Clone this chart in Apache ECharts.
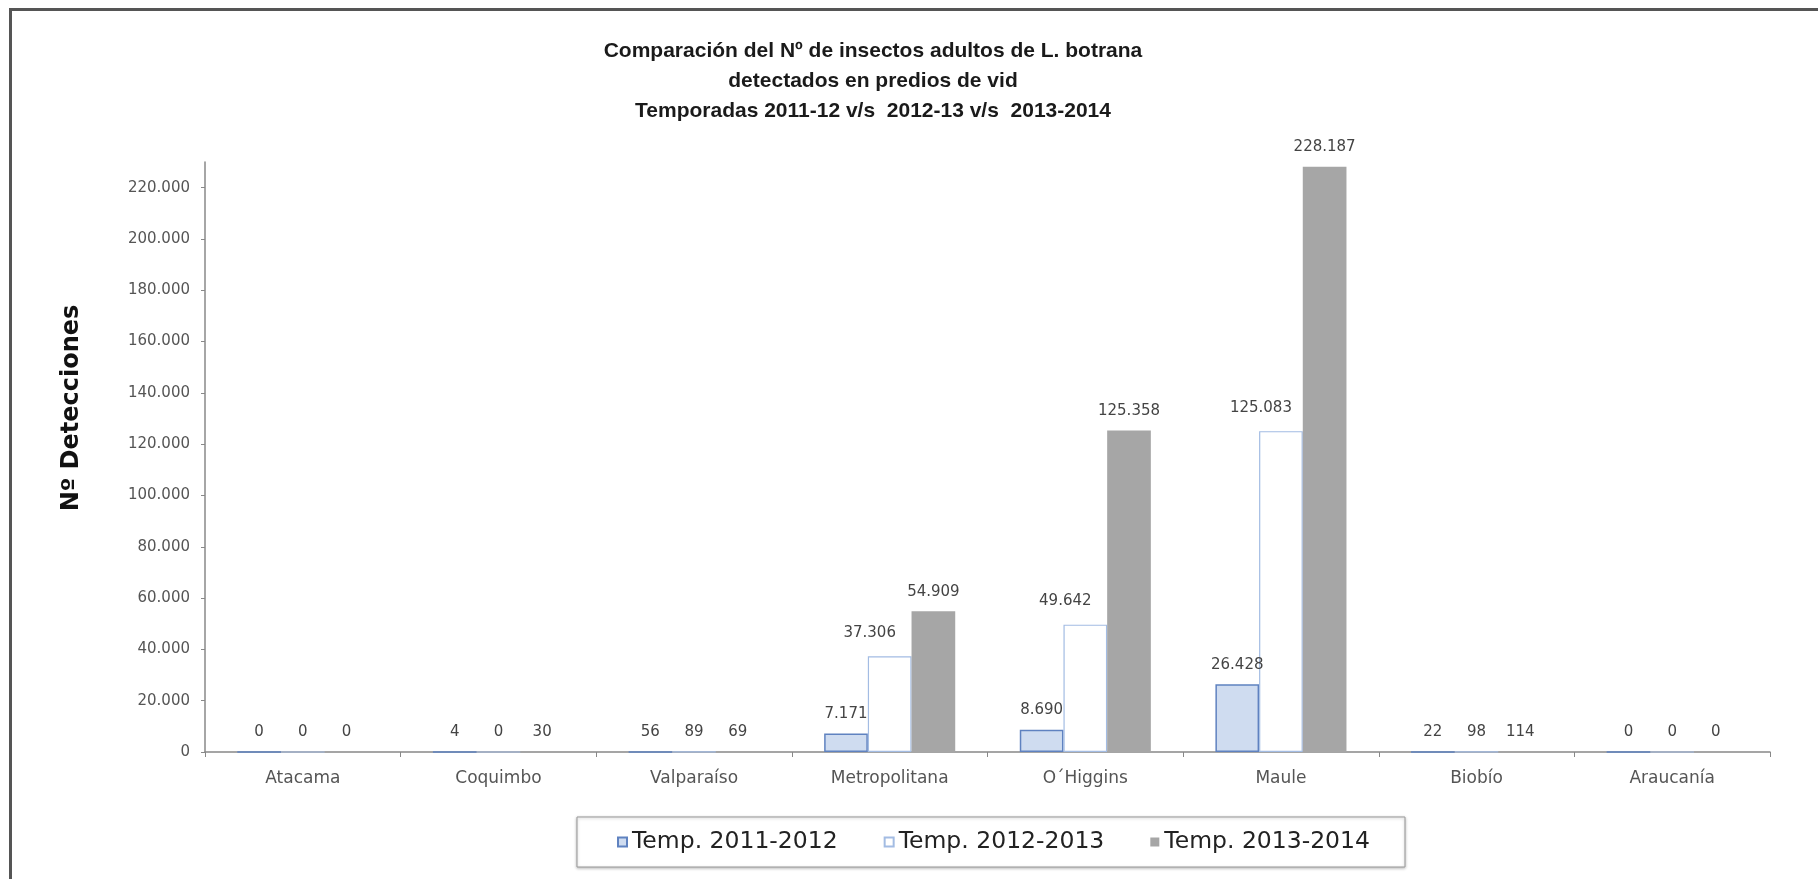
<!DOCTYPE html>
<html>
<head>
<meta charset="utf-8">
<title>L. botrana</title>
<script src="https://cdn.jsdelivr.net/npm/echarts@6/dist/echarts.min.js"></script>
<style>
  html, body { margin: 0; padding: 0; background: #fff; }
  #chart { width: 1818px; height: 879px; }
</style>
</head>
<body>
<div id="chart"></div>
<script>
var regiones = ['Atacama', 'Coquimbo', 'Valparaíso', 'Metropolitana', 'O´Higgins', 'Maule', 'Biobío', 'Araucanía'];
var temp1112 = [0, 4, 56, 7171, 8690, 26428, 22, 0];
var temp1213 = [0, 0, 89, 37306, 49642, 125083, 98, 0];
var temp1314 = [0, 30, 69, 54909, 125358, 228187, 114, 0];
var tituloLineas = [
    'Comparación del Nº de insectos adultos de L. botrana',
    'detectados en predios de vid',
    'Temporadas 2011-12 v/s  2012-13 v/s  2013-2014'
];

var chart = echarts.init(document.getElementById('chart'));
var fuente = 'DejaVu Sans';

// separador de miles con punto
function miles(v) {
    return String(v).replace(/\B(?=(\d{3})+(?!\d))/g, '.');
}

var etiqueta = {
    show: true,
    position: 'top',
    distance: 12,
    color: '#444',
    fontFamily: fuente,
    fontSize: 15,
    formatter: function (p) { return miles(p.value); }
};

// en Excel las etiquetas grandes de 2012-13 quedaron corridas a la izquierda
var datos1213 = temp1213.map(function (v) {
    return v > 1000 ? { value: v, label: { offset: [-20, -4] } } : v;
});

option = {
    backgroundColor: '#fff',
    animation: false,
    title: {
        text: tituloLineas.join('\n'),
        left: 873,
        top: 36,
        padding: 0,
        textAlign: 'center',
        textStyle: {
            fontFamily: 'Liberation Sans',
            fontWeight: 'bold',
            fontSize: 21,
            lineHeight: 30,
            color: '#1a1a1a'
        }
    },
    legend: {
        left: 577,
        top: 817,
        padding: [13, 35, 13, 40],
        itemWidth: 9,
        itemHeight: 9,
        itemGap: 46,
        icon: 'rect',
        backgroundColor: '#fff',
        borderColor: '#999',
        borderWidth: 1,
        shadowColor: 'rgba(0,0,0,0.25)',
        shadowBlur: 3,
        shadowOffsetY: 1,
        textStyle: {
            fontFamily: fuente,
            fontSize: 23.5,
            color: '#222'
        }
    },
    grid: {
        left: 205,
        right: 48,
        top: 162,
        bottom: 127
    },
    xAxis: {
        type: 'category',
        data: regiones,
        axisLine: { lineStyle: { color: '#888', width: 1.5 } },
        axisTick: { show: true, length: 5, lineStyle: { color: '#888' } },
        axisLabel: {
            margin: 18,
            color: '#555',
            fontFamily: fuente,
            fontSize: 17
        },
        splitLine: { show: false }
    },
    yAxis: {
        type: 'value',
        min: 0,
        max: 230000,
        interval: 20000,
        axisLine: { show: true, lineStyle: { color: '#888', width: 1.5 } },
        axisTick: { show: true, length: 4, lineStyle: { color: '#888' } },
        axisLabel: {
            margin: 15,
            color: '#555',
            fontFamily: fuente,
            fontSize: 15,
            showMaxLabel: false,
            formatter: function (v) { return miles(v); }
        },
        splitLine: { show: false }
    },
    graphic: [
        {
            type: 'rect',
            silent: true,
            shape: { x: 10.5, y: 9.5, width: 2000, height: 2000 },
            style: { fill: 'none', stroke: '#555', lineWidth: 3 }
        },
        {
            type: 'text',
            silent: true,
            x: 72,
            y: 408,
            rotation: Math.PI / 2,
            style: {
                text: 'Nº Detecciones',
                fontFamily: fuente,
                fontWeight: 'bold',
                fontSize: 24,
                fill: '#111',
                align: 'center',
                verticalAlign: 'middle'
            }
        }
    ],
    series: [
        {
            name: 'Temp. 2011-2012',
            type: 'bar',
            data: temp1112,
            barGap: '0%',
            barCategoryGap: '33%',
            itemStyle: { color: '#cfdcf0', borderColor: '#5f82c0', borderWidth: 1.5 },
            label: etiqueta
        },
        {
            name: 'Temp. 2012-2013',
            type: 'bar',
            data: datos1213,
            barGap: '0%',
            barCategoryGap: '33%',
            itemStyle: { color: '#ffffff', borderColor: '#a3bce3', borderWidth: 1.2 },
            label: etiqueta
        },
        {
            name: 'Temp. 2013-2014',
            type: 'bar',
            data: temp1314,
            barGap: '0%',
            barCategoryGap: '33%',
            itemStyle: { color: '#a6a6a6' },
            label: etiqueta
        }
    ]
};

chart.setOption(option);
</script>
</body>
</html>
